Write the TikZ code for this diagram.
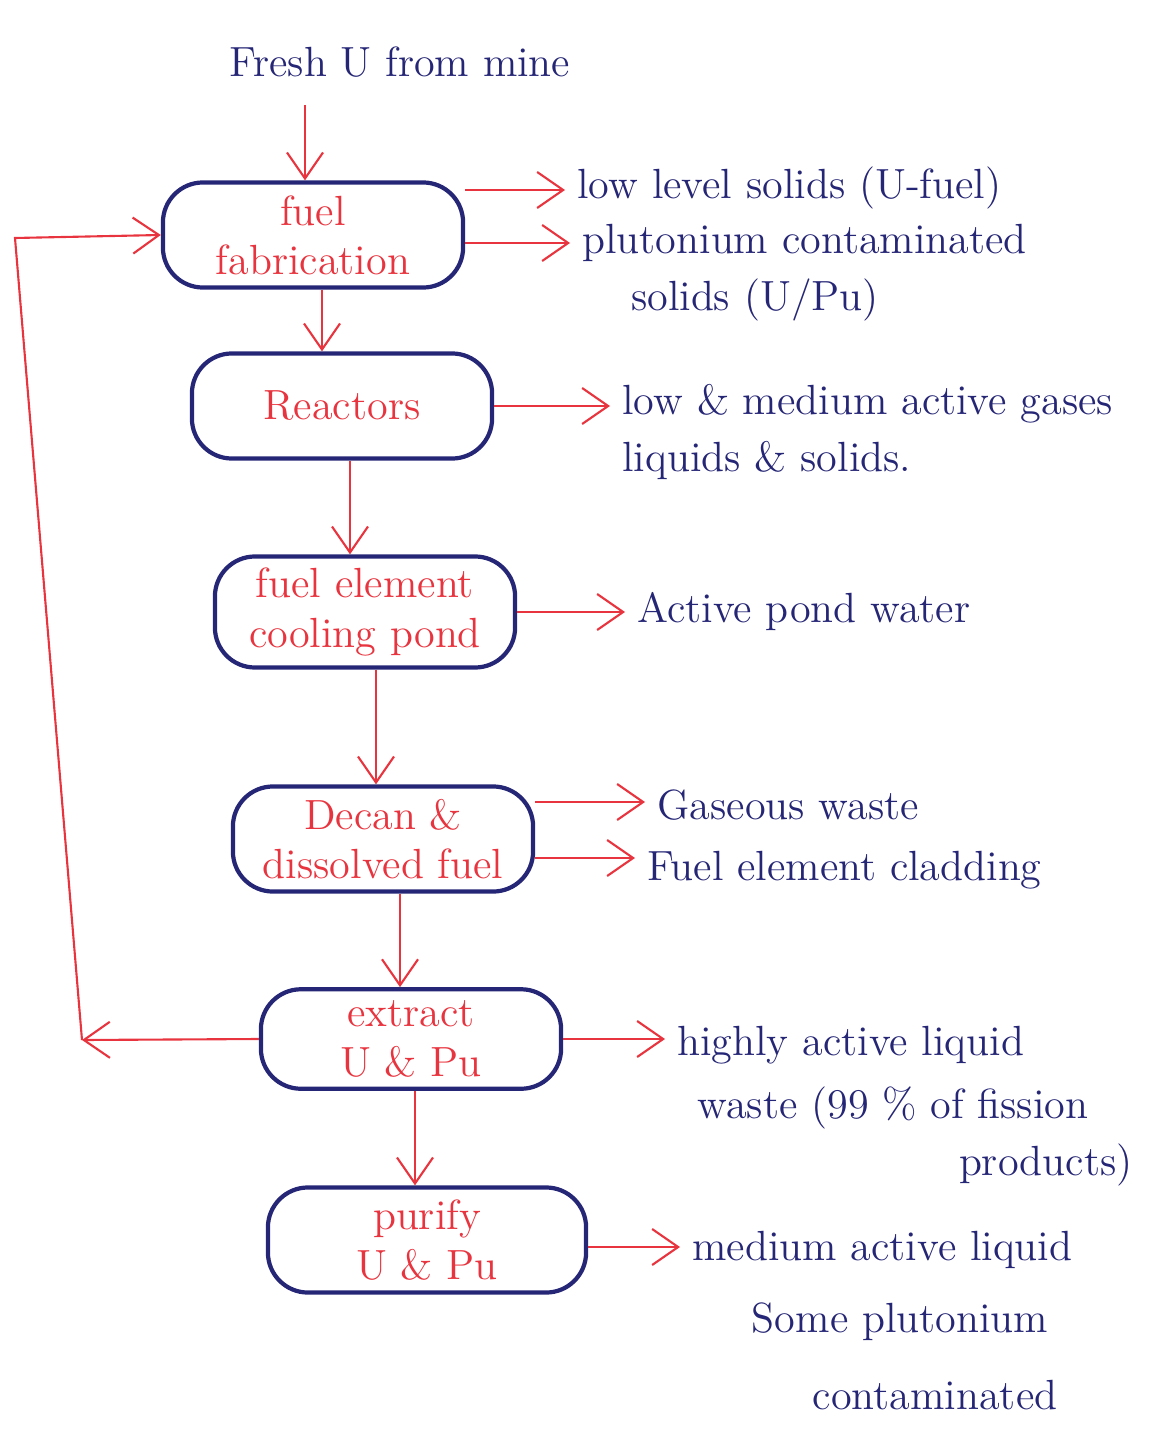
\documentclass[tikz,border=0pt]{standalone}
\usepackage{tikz}
\usetikzlibrary{arrows.meta,calc}
\definecolor{inkblue}{RGB}{38,38,118}
\definecolor{inkred}{RGB}{232,52,62}

\begin{document}
\begin{tikzpicture}[x=0.01cm,y=-0.01cm,>={Straight Barb[length=2.6mm,width=3.6mm]},
    unit/.style={draw=inkblue,very thick,rounded corners=0.4cm,minimum width=3cm,minimum height=1.05cm,
      text=inkred,font=\large,align=center},
    waste/.style={text=inkblue,font=\large,anchor=west,align=left},
    flow/.style={->,inkred,semithick}]
  \useasboundingbox (0,0) rectangle (1170,1452);
  % process units
  \node[unit] (fab) at (313,235) {fuel\\fabrication};
  \node[unit] (reac) at (342,406) {Reactors};
  \node[unit] (pond) at (365,612) {fuel element\\cooling pond};
  \node[unit] (dis) at (383,839) {Decan \&\\dissolved fuel};
  \node[unit,minimum height=0.98cm] (ext) at (411,1039) {extract\\U \& Pu};
  \node[unit,minimum width=3.18cm] (pur) at (427,1240) {purify\\U \& Pu};
  % feed
  \node[text=inkblue,font=\large] (mine) at (400,62) {Fresh U from mine};
  \coordinate (feed) at (305,105);
  \draw[flow] (feed) -- (feed |- fab.north);
  % main line
  \coordinate (d1) at ($(fab.south)+(9,0)$);
  \coordinate (d2) at ($(reac.south)+(8,0)$);
  \coordinate (d3) at ($(pond.south)+(11,0)$);
  \coordinate (d4) at ($(dis.south)+(17,0)$);
  \coordinate (d5) at ($(ext.south)+(4,0)$);
  \draw[flow] (d1) -- (d1 |- reac.north);
  \draw[flow] (d2) -- (d2 |- pond.north);
  \draw[flow] (d3) -- (d3 |- dis.north);
  \draw[flow] (d4) -- (d4 |- ext.north);
  \draw[flow] (d5) -- (d5 |- pur.north);
  % recycle of U and Pu
  \coordinate (back) at (82,1040);
  \coordinate (top) at (15,238);
  \draw[flow] (ext.west) -- (back);
  \draw[flow] (back) -- (top) -- (fab.west);
  % wastes
  \node[waste] (w1) at (565,188) {low level solids (U-fuel)};
  \node[waste] (w2) at (570,243) {plutonium contaminated};
  \node[text=inkblue,font=\large] (w2b) at (755,300) {solids (U/Pu)};
  \node[waste] (w3) at (610,432) {low \& medium active gases\\[2pt]liquids \& solids.};
  \node[waste] (w4) at (625,612) {Active pond water};
  \node[waste] (w5) at (645,805) {Gaseous waste};
  \node[waste] (w6) at (635,870) {Fuel element cladding};
  \node[waste] (w7) at (665,1045) {highly active liquid};
  \node[text=inkblue,font=\large,anchor=west] (w7b) at (685,1108) {waste (99 \% of fission};
  \node[text=inkblue,font=\large,anchor=east] (w7c) at (1145,1165) {products)};
  \node[waste] (w8) at (680,1250) {medium active liquid};
  \node[text=inkblue,font=\large] (w8b) at (900,1322) {Some plutonium};
  \node[text=inkblue,font=\large] (w8c) at (935,1395) {contaminated};
  \coordinate (o1) at ($(fab.east)+(0,-45)$);
  \coordinate (o2) at ($(fab.east)+(0,8)$);
  \coordinate (o5) at ($(dis.east)+(0,-37)$);
  \coordinate (o6) at ($(dis.east)+(0,19)$);
  \coordinate (o8) at ($(pur.east)+(0,7)$);
  \draw[flow] (o1) -- (w1.west |- o1);
  \draw[flow] (o2) -- (w2.west |- o2);
  \draw[flow] (reac.east) -- (w3.west |- reac.east);
  \draw[flow] (pond.east) -- (w4.west |- pond.east);
  \draw[flow] (o5) -- (w5.west |- o5);
  \draw[flow] (o6) -- (w6.west |- o6);
  \draw[flow] (ext.east) -- (w7.west |- ext.east);
  \draw[flow] (o8) -- (w8.west |- o8);
\end{tikzpicture}
\end{document}
